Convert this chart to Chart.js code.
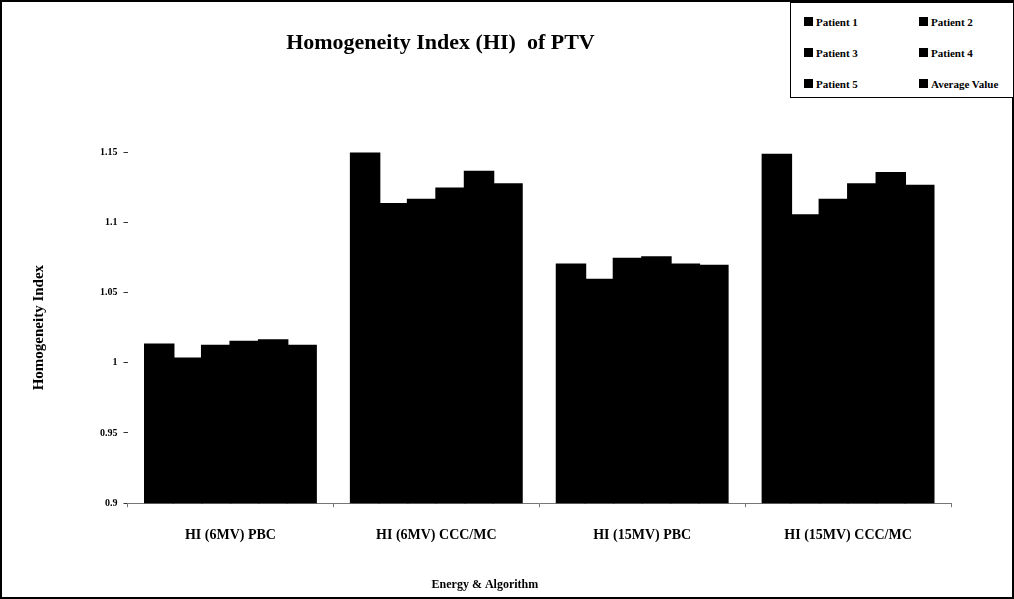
<!DOCTYPE html>
<html>
<head>
<meta charset="utf-8">
<script src="https://cdn.jsdelivr.net/npm/chart.js@4.4.1/dist/chart.umd.min.js"></script>
<style>
    body { margin: 0; background: #fff; }
    #frame {
        position: relative;
        width: 1014px;
        height: 599px;
        box-sizing: border-box;
        border: 2px solid #000;
        background: #fff;
    }
    #legend {
        position: absolute;
        left: 788px;
        top: -2px;
        width: 224px;
        height: 98px;
        box-sizing: border-box;
        border: 1px solid #000;
        border-top-width: 3px;
        background: #fff;
        display: grid;
        grid-template-columns: 115px 1fr;
        grid-auto-rows: 31px;
        padding: 3px 0 0 13px;
        font: bold 11px "Liberation Serif", serif;
    }
    #legend div { display: flex; align-items: center; }
    #legend span.key {
        width: 7px; height: 7px;
        border: 1px solid #000;
        margin-right: 3px;
    }
</style>
</head>
<body>
<div id="frame">
    <canvas id="hi-chart"></canvas>
    <div id="legend"></div>
</div>
<script>
// Data
const categories = ['HI (6MV) PBC', 'HI (6MV) CCC/MC', 'HI (15MV) PBC', 'HI (15MV) CCC/MC'];
const patient1 = [1.013, 1.149, 1.070, 1.148];
const patient2 = [1.003, 1.113, 1.059, 1.105];
const patient3 = [1.012, 1.116, 1.074, 1.116];
const patient4 = [1.015, 1.124, 1.075, 1.127];
const patient5 = [1.016, 1.136, 1.070, 1.135];
const averageValue = [1.012, 1.127, 1.069, 1.126];
const yTicks = [0.9, 0.95, 1, 1.05, 1.1, 1.15];
const yTickLabels = ['0.9', '0.95', '1', '1.05', '1.1', '1.15'];

const seriesNames = ['Patient 1', 'Patient 2', 'Patient 3', 'Patient 4', 'Patient 5', 'Average Value'];
const seriesData = [patient1, patient2, patient3, patient4, patient5, averageValue];
const seriesColors = ['#000', '#000', '#000', '#000', '#000', '#000'];

const chartTitle = 'Homogeneity Index (HI)  of PTV';
const xTitle = 'Energy & Algorithm';
const yTitle = 'Homogeneity Index';

const serif = '"Liberation Serif", "Times New Roman", serif';

// Titles are drawn off-centre in the reference, so place them by hand
const titlePlugin = {
    id: 'titles',
    afterDraw(chart) {
        const ctx = chart.ctx;
        const area = chart.chartArea;
        ctx.save();
        ctx.fillStyle = '#000';
        ctx.textAlign = 'center';
        ctx.textBaseline = 'middle';
        ctx.font = 'bold 22px ' + serif;
        ctx.fillText(chartTitle, area.left + area.width * 0.38, 41);
        ctx.font = 'bold 12px ' + serif;
        ctx.fillText(xTitle, area.left + area.width * 0.434, 583);
        ctx.restore();
    }
};

const ctx = document.getElementById('hi-chart').getContext('2d');
const hiChart = new Chart(ctx, {
    type: 'bar',
    data: {
        labels: categories,
        datasets: seriesNames.map((name, i) => ({
            label: name,
            data: seriesData[i],
            backgroundColor: seriesColors[i],
            borderWidth: 0,
            inflateAmount: 1,
            categoryPercentage: 0.83,
            barPercentage: 1.0
        }))
    },
    options: {
        responsive: true,
        maintainAspectRatio: false,
        animation: false,
        layout: { padding: { top: 150, left: 28, right: 61, bottom: 33 } },
        plugins: {
            legend: { display: false },
            title: { display: false },
            tooltip: { enabled: false }
        },
        scales: {
            x: {
                grid: { drawOnChartArea: false, tickLength: 4, color: '#777', offset: true },
                border: { display: true, color: '#777', width: 1 },
                ticks: {
                    color: '#000',
                    padding: 20,
                    maxRotation: 0,
                    font: { family: serif, weight: 'bold', size: 14 }
                }
            },
            y: {
                min: 0.9,
                max: 1.15,
                afterBuildTicks: scale => { scale.ticks = yTicks.map(v => ({ value: v })); },
                grid: { drawOnChartArea: false, tickLength: 4, color: '#333' },
                border: { display: false },
                ticks: {
                    color: '#000',
                    padding: 6,
                    font: { family: serif, weight: 'bold', size: 10 },
                    callback: (value, index) => yTickLabels[index]
                },
                title: {
                    display: true,
                    text: yTitle,
                    color: '#000',
                    font: { family: serif, weight: 'bold', size: 15 },
                    padding: { top: 0, bottom: 46 }
                }
            }
        }
    },
    plugins: [titlePlugin]
});

// HTML legend in two columns, like the boxed legend of the reference
const legendBox = document.getElementById('legend');
hiChart.data.datasets.forEach(ds => {
    const item = document.createElement('div');
    item.innerHTML = `<span class="key" style="background:${ds.backgroundColor}"></span>${ds.label}`;
    legendBox.appendChild(item);
});
</script>
</body>
</html>
